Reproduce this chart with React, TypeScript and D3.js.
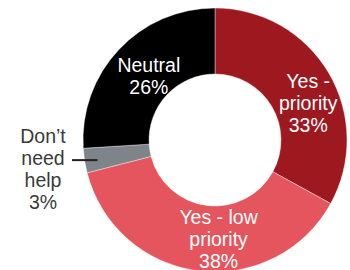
import React from "react";
import * as d3 from "d3";

const categories = ["Yes - priority", "Yes - low priority", "Don’t need help", "Neutral"];
const values = [33, 38, 3, 26];
const colors = ["#9E1820", "#E4555E", "#7E8489", "#000000"];
const labelLines = [
  ["Yes -", "priority", "33%"],
  ["Yes - low", "priority", "38%"],
  ["Don’t", "need", "help", "3%"],
  ["Neutral", "26%"],
];

const W = 350;
const H = 270;
const cx = 215;
const cy = 140;
const outerR = 132;
const innerR = 66;
const lineH = 22;
const fontSize = 19.5;

export default function App() {
  const data = categories.map((c, i) => ({ c, v: values[i], i }));
  const pie = d3.pie<any>().value((d) => d.v).sort(null);
  const arcs = pie(data);
  const arc = d3.arc<any>().innerRadius(innerR).outerRadius(outerR);
  const labelArc = d3.arc<any>().innerRadius(99).outerRadius(99);
  // offsets from centroid to label block center
  const offsets: [number, number][] = [
    [8, 13],
    [16, 1],
    [0, 0],
    [6, 4],
  ];
  return (
    <svg
      width={W}
      height={H}
      style={{ position: "absolute", left: 0, top: 0, fontFamily: "'Liberation Sans', Arial, sans-serif" }}
    >
      <rect width={W} height={H} fill="#ffffff" />
      <g transform={`translate(${cx},${cy})`}>
        {arcs.map((a, i) => (
          <path key={i} d={arc(a) as string} fill={colors[i]} stroke="#ffffff" strokeWidth={0.4} />
        ))}
        {arcs.map((a, i) => {
          if (i === 2) return null;
          const [x, y] = labelArc.centroid(a);
          const lines = labelLines[i];
          const bx = x + offsets[i][0];
          const by = y + offsets[i][1];
          const top = by - ((lines.length - 1) * lineH) / 2 + 7;
          return (
            <text key={i} textAnchor="middle" fill="#ffffff" fontSize={fontSize}>
              {lines.map((l, j) => (
                <tspan key={j} x={bx} y={top + j * lineH}>
                  {l}
                </tspan>
              ))}
            </text>
          );
        })}
      </g>
      {/* outside label for small slice */}
      {(() => {
        const a = arcs[2];
        const mid = (a.startAngle + a.endAngle) / 2;
        const r = outerR - 13;
        const px = cx + r * Math.sin(mid);
        const py = cy - r * Math.cos(mid) + 1.5;
        const lines = labelLines[2];
        const tx = 43;
        const firstBase = 143;
        return (
          <g>
            <line x1={72} y1={py} x2={px} y2={py} stroke="#222222" strokeWidth={2} />
            <text textAnchor="middle" fill="#3a3a3a" fontSize={fontSize}>
              {lines.map((l, j) => (
                <tspan key={j} x={tx} y={firstBase + j * lineH}>
                  {l}
                </tspan>
              ))}
            </text>
          </g>
        );
      })()}
    </svg>
  );
}
